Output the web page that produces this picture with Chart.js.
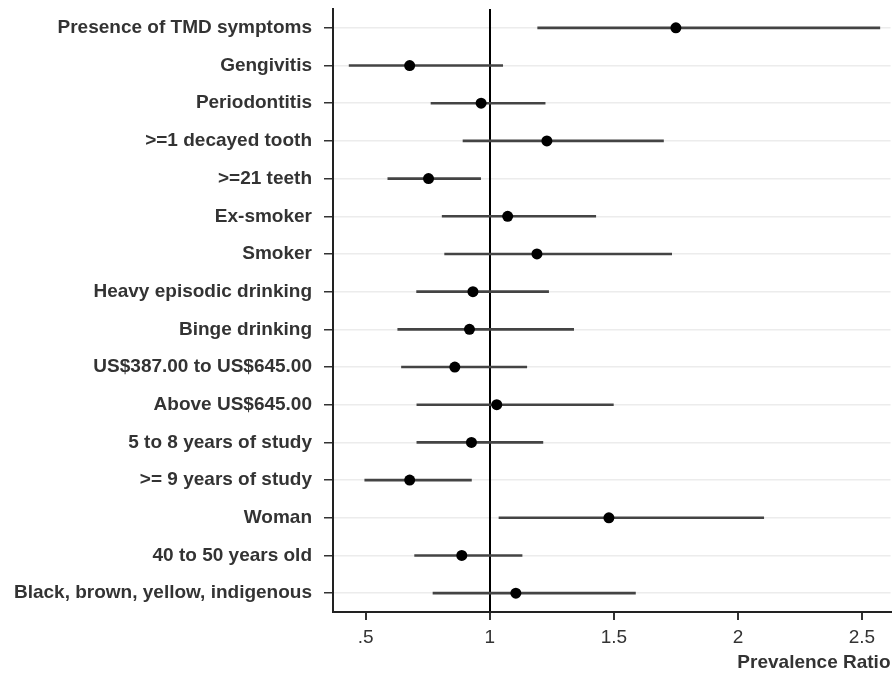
<!DOCTYPE html>
<html>
<head>
<meta charset="utf-8">
<script src="https://cdn.jsdelivr.net/npm/chart.js@4/dist/chart.umd.min.js"></script>
<style>
  html, body { margin: 0; padding: 0; background: #fff; overflow: hidden; }
  #wrap { width: 896px; height: 674px; }
</style>
</head>
<body>
<div id="wrap"><canvas id="forest" width="896" height="674"></canvas></div>
<script>
const factors = [
    'Presence of TMD symptoms',
    'Gengivitis',
    'Periodontitis',
    '>=1 decayed tooth',
    '>=21 teeth',
    'Ex-smoker',
    'Smoker',
    'Heavy episodic drinking',
    'Binge drinking',
    'US$387.00 to US$645.00',
    'Above US$645.00',
    '5 to 8 years of study',
    '>= 9 years of study',
    'Woman',
    '40 to 50 years old',
    'Black, brown, yellow, indigenous'
];
const ratios = [1.75, 0.677, 0.965, 1.23, 0.753, 1.072, 1.19, 0.932, 0.918, 0.859, 1.028, 0.926, 0.677, 1.48, 0.887, 1.105];
const lower  = [1.193, 0.433, 0.763, 0.892, 0.589, 0.808, 0.818, 0.705, 0.629, 0.644, 0.706, 0.706, 0.496, 1.037, 0.697, 0.771];
const upper  = [2.572, 1.052, 1.223, 1.70, 0.963, 1.427, 1.733, 1.237, 1.338, 1.149, 1.498, 1.214, 0.926, 2.104, 1.13, 1.587];
const xTicks = [0.5, 1, 1.5, 2, 2.5];
const xTickLabels = ['.5', '1', '1.5', '2', '2.5'];

const FONT = "'Liberation Sans', Arial, sans-serif";
const TEXT = '#333';

const ctx = document.getElementById('forest').getContext('2d');
new Chart(ctx, {
    data: {
        labels: factors,
        datasets: [
            {
                type: 'scatter',
                order: 0,
                data: factors.map((f, i) => ({ x: ratios[i], y: f })),
                backgroundColor: '#000',
                borderWidth: 0,
                pointRadius: 5.5
            },
            {
                type: 'bar',
                order: 1,
                indexAxis: 'y',
                data: factors.map((f, i) => [lower[i], upper[i]]),
                backgroundColor: '#444',
                borderWidth: 0,
                borderSkipped: false,
                barThickness: 2
            }
        ]
    },
    options: {
        responsive: false,
        animation: false,
        layout: { padding: { top: 9, left: 0, right: 0, bottom: 0 } },
        plugins: {
            legend: { display: false },
            tooltip: { enabled: false }
        },
        scales: {
            x: {
                type: 'linear',
                position: 'bottom',
                min: 0.368,
                max: 2.615,
                afterBuildTicks: (scale) => { scale.ticks = xTicks.map(v => ({ value: v })); },
                afterFit: (scale) => {
                    scale.height = 62;
                    scale.paddingLeft = 0;
                    scale.paddingRight = 0;
                },
                ticks: {
                    autoSkip: false,
                    maxRotation: 0,
                    padding: 6,
                    color: TEXT,
                    font: { family: FONT, size: 19 },
                    callback: (v) => xTickLabels[xTicks.indexOf(v)]
                },
                grid: {
                    z: -1,
                    color: (c) => (c.tick && c.tick.value === 1) ? '#000' : 'rgba(0,0,0,0)',
                    lineWidth: 2,
                    tickColor: '#333',
                    tickLength: 8
                },
                border: { display: true, color: '#222', width: 2 },
                title: {
                    display: true,
                    text: 'Prevalence Ratio',
                    align: 'end',
                    color: TEXT,
                    padding: 0,
                    font: { family: FONT, size: 19, weight: 'bold' }
                }
            },
            y: {
                type: 'category',
                labels: factors,
                offset: true,
                afterFit: (scale) => {
                    scale.width = 333;
                    scale.paddingTop = 0;
                    scale.paddingBottom = 0;
                },
                ticks: {
                    autoSkip: false,
                    padding: 12,
                    color: TEXT,
                    font: { family: FONT, size: 19, weight: 'bold' }
                },
                grid: {
                    z: -2,
                    offset: false,
                    color: '#ececec',
                    lineWidth: 1.5,
                    tickColor: '#333',
                    tickLength: 9
                },
                border: { display: true, color: '#222', width: 2 }
            }
        }
    }
});
</script>
</body>
</html>
